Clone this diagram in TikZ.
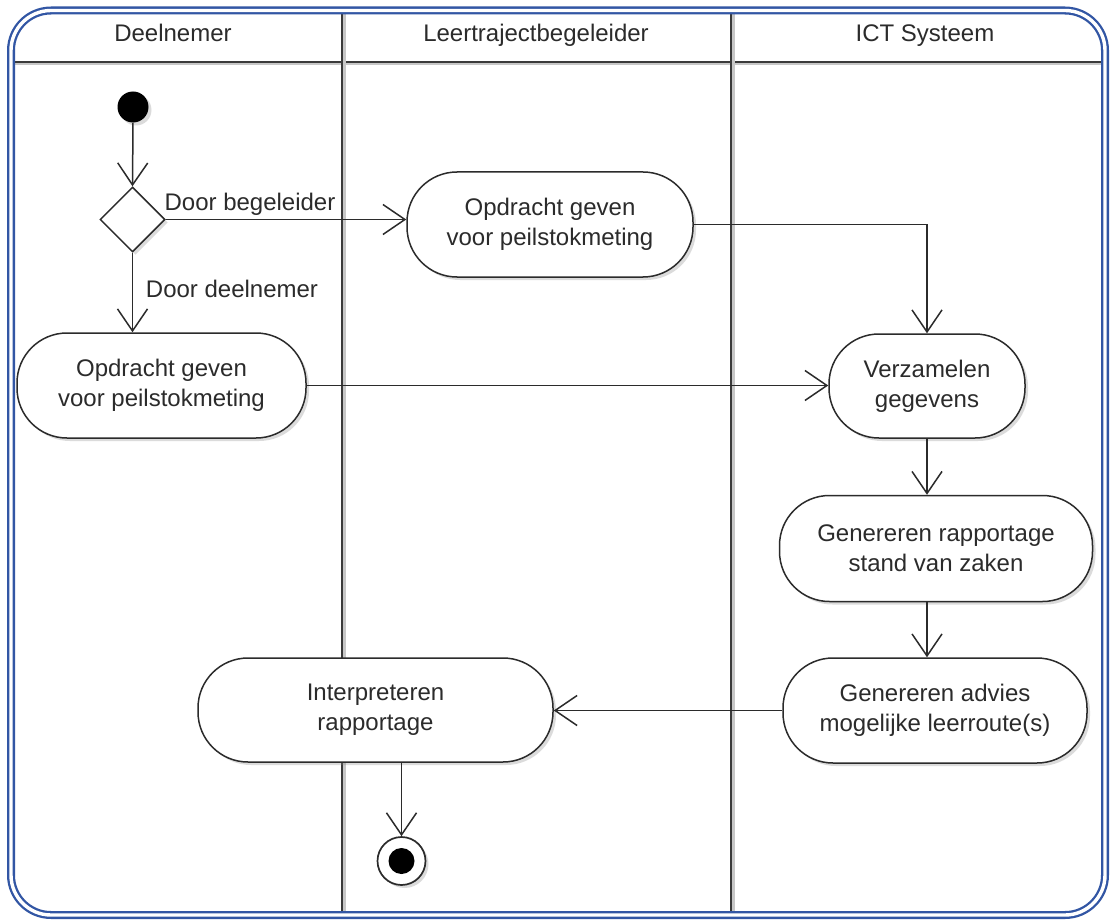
\documentclass[tikz,border=0pt]{standalone}
\usepackage{fontspec}
\setmainfont{Liberation Sans}
\usetikzlibrary{arrows.meta,shapes.geometric,shadows}
\definecolor{poolblue}{HTML}{3256A4}
\definecolor{ink}{HTML}{2B2B2B}
\definecolor{lanegray}{HTML}{3A3A3A}
\begin{document}
\begin{tikzpicture}[x=1pt,y=-1pt,
  txt/.style={font=\fontsize{24}{30}\selectfont, text=ink},
  soft/.style={drop shadow={shadow xshift=3pt, shadow yshift=-3pt, opacity=0.28}},
  action/.style={draw=ink, line width=1.5pt, fill=white, rounded corners=50pt,
    align=center, inner sep=0pt, txt, soft},
  flow/.style={draw=ink, line width=1.5pt,
    -{Straight Barb[length=22pt,width=30pt,line width=1.5pt]}},
  laneline/.style={draw=lanegray, line width=1.8pt},
  laneshade/.style={draw=black!22, line width=3pt},
  lanetitle/.style={txt, anchor=center, text height=17pt, text depth=5pt},
  guard/.style={txt, anchor=center}
]
\useasboundingbox (0,0) rectangle (1114,920);
\fill[white] (0,0) rectangle (1114,920);

% swimlane grid: header rule and lane separators
\draw[laneshade] (14,64) -- (1102,64);
\draw[laneline] (14,62) -- (1102,62);
\foreach \lx in {342,731} {
  \draw[laneshade] (\lx+2.2,14) -- (\lx+2.2,914);
  \draw[laneline] (\lx,14) -- (\lx,914);
}

% lane titles
\node[lanetitle] (t1) at (173,36) {Deelnemer};
\node[lanetitle] (t2) at (536,36) {Leertrajectbegeleider};
\node[lanetitle] (t3) at (925,36) {ICT Systeem};

% pool frame
\draw[poolblue, line width=2.3pt, double=white, double distance=3.4pt, rounded corners=40pt]
  (11,10.5) rectangle (1105,915);

% start and decision
\node[circle, fill=black, minimum size=31pt, inner sep=0pt, soft] (start) at (133,107) {};
\node[diamond, draw=ink, line width=1.5pt, fill=white, minimum width=65pt, minimum height=65pt,
  inner sep=0pt, soft] (dec) at (132.5,219.5) {};

% actions
\node[action, minimum width=286pt, minimum height=105pt] (A) at (550,224.5)
  {Opdracht geven\\voor peilstokmeting};
\node[action, minimum width=289pt, minimum height=105pt] (B) at (161.5,385.5)
  {Opdracht geven\\voor peilstokmeting};
\node[action, minimum width=196pt, minimum height=104pt] (C) at (927,386)
  {Verzamelen\\gegevens};
\node[action, minimum width=313pt, minimum height=106pt] (D) at (936,548.5)
  {Genereren rapportage\\stand van zaken};
\node[action, minimum width=304pt, minimum height=105pt] (E) at (935,710.5)
  {Genereren advies\\mogelijke leerroute(s)};
\node[action, minimum width=355pt, minimum height=104pt] (F) at (375.5,710)
  {Interpreteren\\rapportage};

% final node
\node[circle, draw=ink, line width=1.7pt, fill=white, minimum size=48pt, inner sep=0pt, soft]
  (end) at (401.5,861) {};
\fill[black] (end.center) circle[radius=13];

% control flow
\draw[flow] (start.south) -- (dec.north);
\draw[flow] (dec.east) -- (dec.east -| A.west);
\draw[flow] (dec.south) -- (dec.south |- B.north);
\draw[flow] (A.east) -| (C.north);
\draw[flow] (B.east) -- (B.east -| C.west);
\draw[flow] (C.south) -- (C.south |- D.north);
\draw[flow] (C.south |- D.south) -- (C.south |- E.north);
\draw[flow] (E.west) -- (E.west -| F.east);
\draw[flow] (F.south -| end.north) -- (end.north);

% guards
\node[guard] (g1) at (250,204) {Door begeleider};
\node[guard] (g2) at (232,289) {Door deelnemer};
\end{tikzpicture}
\end{document}
